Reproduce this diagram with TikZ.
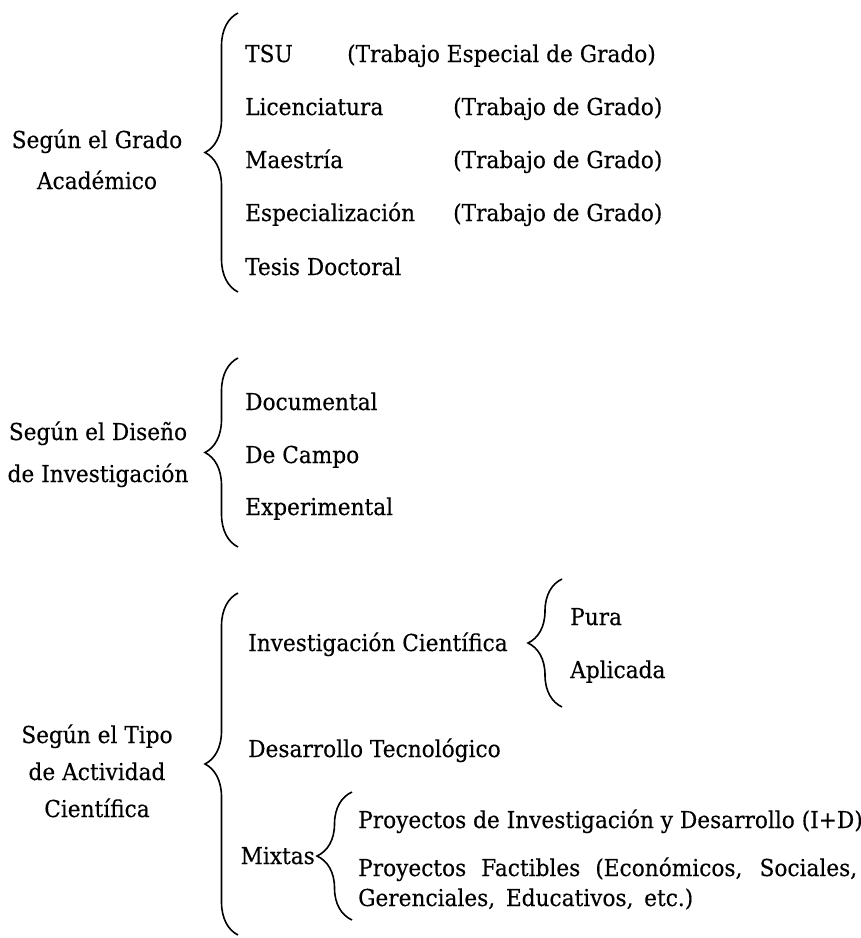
\documentclass[tikz,border=0pt]{standalone}
\usepackage{fontspec}
\setmainfont[FakeStretch=0.93,FakeBold=0.3]{DejaVu Serif}
\usetikzlibrary{decorations.pathreplacing}
\begin{document}
\begin{tikzpicture}[x=1pt,y=1pt,
  txt/.style={inner sep=0pt, anchor=base west, font=\fontsize{23.3}{29}\selectfont},
  lbl/.style={inner sep=0pt, anchor=base, font=\fontsize{23.3}{29}\selectfont},
  bracestyle/.style={decorate, decoration={brace, amplitude=#1}, line width=1.6pt}
]
\useasboundingbox (0,0) rectangle (861,-938);
% ---------- Section 1 ----------
\node[lbl] (g1a) at (97,-148) {Según el Grado};
\node[lbl] (g1b) at (97,-189) {Académico};
\coordinate (b1t) at (238,-13);
\coordinate (b1b) at (238,-292);
\draw[bracestyle=33] (b1b) -- (b1t);
\node[txt] (tsu) at (245,-62) {TSU};
\node[txt] (lic) at (245,-115) {Licenciatura};
\node[txt] (mae) at (245,-168) {Maestría};
\node[txt] (esp) at (245,-221) {Especialización};
\node[txt] (tes) at (245,-275) {Tesis Doctoral};
\node[txt] (tsuw) at (347,-62) {(Trabajo Especial de Grado)};
\node[txt] (licw) at (453,-115) {(Trabajo de Grado)};
\node[txt] (maew) at (453,-168) {(Trabajo de Grado)};
\node[txt] (espw) at (453,-221) {(Trabajo de Grado)};
% ---------- Section 2 ----------
\node[lbl] (g2a) at (98,-440) {Según el Diseño};
\node[lbl] (g2b) at (98,-482) {de Investigación};
\coordinate (b2t) at (238,-358);
\coordinate (b2b) at (238,-547);
\draw[bracestyle=33] (b2b) -- (b2t);
\node[txt] (doc) at (245,-410) {Documental};
\node[txt] (cam) at (245,-463) {De Campo};
\node[txt] (exp) at (245,-515) {Experimental};
% ---------- Section 3 ----------
\node[lbl] (g3a) at (97,-743) {Según el Tipo};
\node[lbl] (g3b) at (97,-780) {de Actividad};
\node[lbl] (g3c) at (97,-817) {Científica};
\coordinate (b3t) at (238,-593);
\coordinate (b3b) at (238,-935);
\draw[bracestyle=33] (b3b) -- (b3t);
\node[txt] (ic) at (248,-651) {Investigación Científica};
\coordinate (b4t) at (562,-579);
\coordinate (b4b) at (562,-707);
\draw[bracestyle=34] (b4b) -- (b4t);
\node[txt] (pura) at (570,-625) {Pura};
\node[txt] (apl) at (570,-678) {Aplicada};
\node[txt] (dt) at (248,-757) {Desarrollo Tecnológico};
\node[txt, anchor=base east] (mix) at (315,-864) {Mixtas};
\coordinate (b5t) at (352,-792);
\coordinate (b5b) at (352,-920);
\draw[bracestyle=35] (b5b) -- (b5t);
\node[txt] (pid) at (358,-828) {Proyectos de Investigación y Desarrollo (I+D)};
\node[txt] (pf1) at (358,-876) {\makebox[499pt][s]{Proyectos Factibles (Económicos, Sociales,}};
\node[txt] (pf2) at (358,-906) {\makebox[335pt][s]{Gerenciales, Educativos, etc.)}};
\end{tikzpicture}
\end{document}
